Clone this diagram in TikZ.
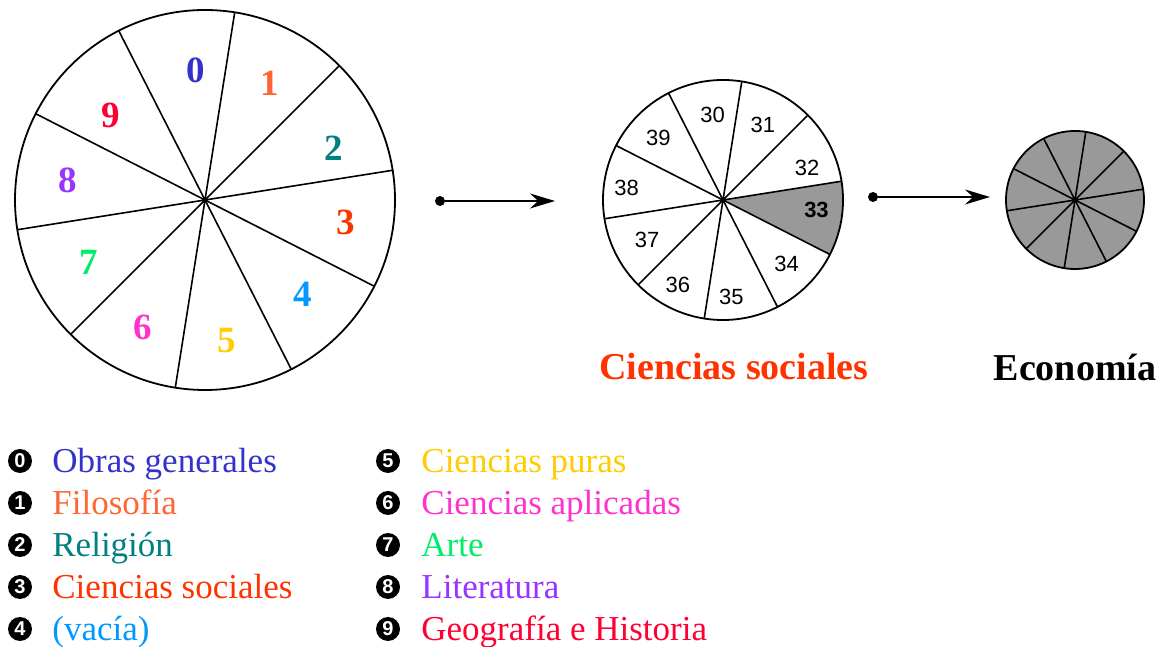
\documentclass[tikz,border=0pt]{standalone}
\usepackage{fontspec}
\setmainfont{Liberation Serif}
\newfontfamily\numfont{Liberation Sans}
\usetikzlibrary{arrows.meta,positioning,backgrounds}
\definecolor{obrasblue}{HTML}{3333CC}
\definecolor{filoorange}{HTML}{FF6633}
\definecolor{religteal}{HTML}{008080}
\definecolor{socialred}{HTML}{FF3300}
\definecolor{vaciablue}{HTML}{0099FF}
\definecolor{purasgold}{HTML}{FFCC00}
\definecolor{aplicpink}{HTML}{FF33CC}
\definecolor{artegreen}{HTML}{00EE66}
\definecolor{literpurple}{HTML}{9933FF}
\definecolor{geored}{HTML}{FF0033}
\definecolor{wedgegray}{HTML}{999999}

\begin{document}
\begin{tikzpicture}[x=1pt, y=1pt,
    wheel/.style={circle, draw=black, line width=1.8pt,
                  inner sep=0pt, outer sep=0pt},
    spoke/.style={line width=1.6pt},
    hub/.style={circle, fill=black, inner sep=0pt, minimum size=6pt},
    bigdig/.style={font=\fontsize{37}{37}\selectfont\bfseries},
    subdig/.style={font=\numfont\fontsize{22}{22}\selectfont},
    title/.style={font=\fontsize{38}{38}\selectfont\bfseries},
    badge/.style={circle, fill=black, text=white, inner sep=0pt,
                  minimum size=24pt,
                  font=\numfont\fontsize{20}{20}\selectfont\bfseries},
    entry/.style={inner sep=0pt, text height=23pt, text depth=0pt,
                  font=\fontsize{35}{35}\selectfont},
    dot/.style={circle, fill=black, inner sep=0pt, minimum size=10pt},
    arr/.style={-{Stealth[length=25pt, width=15pt]}, line width=1.6pt}
  ]
    \useasboundingbox (0,0) rectangle (1161,647);

    % the three wheels
    \node[wheel, minimum size=380pt] (big) at (205,447) {};
    \node[wheel, minimum size=240pt] (mid) at (723,447) {};
    \node[wheel, fill=wedgegray, minimum size=138pt] (small) at (1075,447) {};

    \begin{scope}[on background layer]
      \fill[wedgegray] (mid.center) -- (mid.9)
        arc[start angle=9, end angle=-27, radius=120pt] -- cycle;
    \end{scope}

    \foreach \w in {big, mid, small}{
      \foreach \a in {9,45,...,333}
        \draw[spoke] (\w.center) -- (\w.\a);
      \node[hub] (\w-hub) at (\w.center) {};
    }

    % classes
    \foreach \n/\a/\r/\c in {0/94/130/obrasblue, 1/61/134/filoorange,
        2/22/139/religteal, 3/-9/142/socialred, 4/-44/136/vaciablue,
        5/-81/142/purasgold, 6/-116/142/aplicpink, 7/208/132/artegreen,
        8/172/139/literpurple, 9/138/127/geored}
      \node[bigdig, text=\c] (d\n) at ([shift={(\a:\r)}]big.center) {\n};

    % divisions of 3
    \foreach \n/\a/\r in {30/97/86, 31/62/85, 32/21/90, 34/-45/90,
        35/-85/97, 36/-118/96, 37/208/86, 38/173/97, 39/136/90}
      \node[subdig] (s\n) at ([shift={(\a:\r)}]mid.center) {\n};
    \node[subdig, font=\numfont\fontsize{22}{22}\selectfont\bfseries] (s33)
      at ([shift={(-6:94)}]mid.center) {33};

    \node[dot] (src1) at (440,446) {};
    \coordinate (tip1) at (555,446);
    \draw[arr] (src1) -- (tip1);
    \node[dot] (src2) at (873,450) {};
    \coordinate (tip2) at (990,450);
    \draw[arr] (src2) -- (tip2);

    \node[title, text=socialred] (tsoc) at (734,280) {Ciencias sociales};
    \node[title] (teco) at (1075,280) {Economía};

    % legend
    \foreach \n/\t/\c [count=\k from 0] in {0/Obras generales/obrasblue,
        1/Filosofía/filoorange, 2/Religión/religteal,
        3/Ciencias sociales/socialred, 4/{(vacía)}/vaciablue}{
      \node[badge] (b\n) at (20,186-42*\k) {\n};
      \node[entry, text=\c, right=20pt of b\n] (e\n) {\t};
    }
    \foreach \n/\t/\c [count=\k from 0] in {5/Ciencias puras/purasgold,
        6/Ciencias aplicadas/aplicpink, 7/Arte/artegreen,
        8/Literatura/literpurple, 9/Geografía e Historia/geored}{
      \node[badge] (b\n) at (388,186-42*\k) {\n};
      \node[entry, text=\c, right=21pt of b\n] (e\n) {\t};
    }
  \end{tikzpicture}
\end{document}
